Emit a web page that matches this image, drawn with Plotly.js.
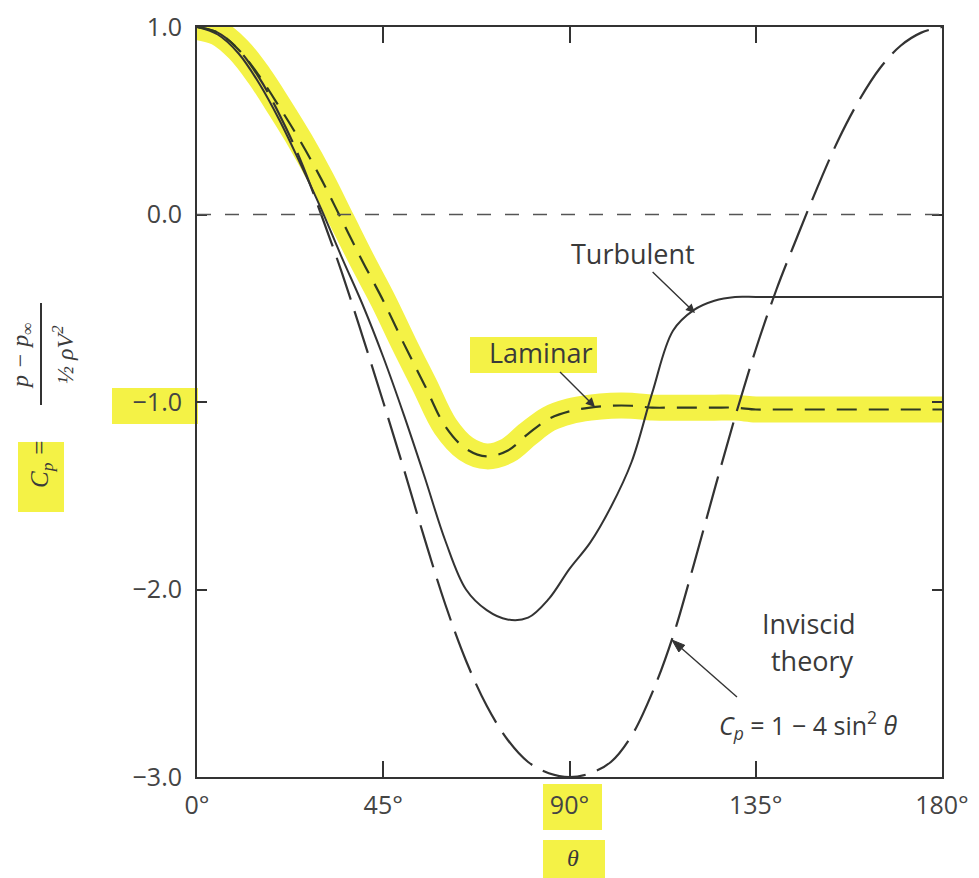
<!DOCTYPE html>
<html>
<head>
<meta charset="utf-8">
<script src="https://cdn.plot.ly/plotly-3.0.1.min.js"></script>
<style>html,body{margin:0;padding:0;background:#fff;}#chart{width:979px;height:878px;}</style>
</head>
<body>
<div id="chart"></div>
<script>
// ---- data ----
var theta = [0,5,10,15,20,25,30,35,40,45,50,55,60,65,70,75,80,85,90,95,100,105,110,115,120,125,130,135,140,145,150,155,160,165,170,175,180];
var inviscid = [1.00,0.97,0.88,0.73,0.53,0.29,0.00,-0.31,-0.65,-1.00,-1.36,-1.73,-2.08,-2.38,-2.62,-2.80,-2.92,-2.98,-3.00,-2.98,-2.92,-2.78,-2.55,-2.25,-1.87,-1.47,-1.08,-0.72,-0.40,-0.12,0.15,0.40,0.61,0.78,0.90,0.97,1.00];
var turbulent = [1.00,0.96,0.86,0.70,0.50,0.27,0.03,-0.23,-0.48,-0.76,-1.07,-1.40,-1.74,-2.00,-2.11,-2.16,-2.15,-2.05,-1.89,-1.75,-1.56,-1.32,-0.95,-0.62,-0.51,-0.46,-0.44,-0.44,-0.44,-0.44,-0.44,-0.44,-0.44,-0.44,-0.44,-0.44,-0.44];
var laminar = [1.00,0.97,0.88,0.74,0.57,0.39,0.19,-0.03,-0.25,-0.46,-0.69,-0.91,-1.13,-1.25,-1.29,-1.26,-1.17,-1.09,-1.05,-1.03,-1.02,-1.02,-1.03,-1.03,-1.03,-1.03,-1.03,-1.04,-1.04,-1.04,-1.04,-1.04,-1.04,-1.04,-1.04,-1.04,-1.04];
var xTickVals = [0,45,90,135,180];
var xTickText = ['0°','45°','90°','135°','180°'];
var yTickVals = [1,0,-1,-2,-3];
var yTickText = ['1.0','0.0','\u22121.0','\u22122.0','\u22123.0'];

// ---- layout helpers (pixel -> paper) ----
var L = 197, R = 37, T = 27, B = 101, W = 979, H = 878;
var PW = W - L - R, PH = H - T - B;
function px(X){ return (X - L) / PW; }
function py(Y){ return (H - B - Y) / PH; }

var ink = '#333';
var yellow = 'rgb(244,242,70)';
var fam = 'Open Sans, Liberation Sans, sans-serif';
var txtFont = {family: fam, size: 27, color: '#3a3a3a'};
var mathFont = {family: 'Liberation Serif, DejaVu Serif, serif', size: 24, color: '#3a3a3a', style: 'italic'};

var traces = [
  {x: theta, y: laminar, mode: 'lines', line: {color: yellow, width: 26, shape: 'spline'}, hoverinfo: 'skip', showlegend: false},
  {x: theta, y: inviscid, mode: 'lines', name: 'Inviscid', line: {color: ink, width: 2.2, dash: '44px,12px', shape: 'spline'}},
  {x: theta, y: turbulent, mode: 'lines', name: 'Turbulent', line: {color: ink, width: 2, shape: 'spline'}},
  {x: theta, y: laminar, mode: 'lines', name: 'Laminar', line: {color: '#2f3a22', width: 2.2, dash: '20px,12px', shape: 'spline'}}
];

function hl(x0, y0, x1, y1){
  return {type: 'rect', xref: 'paper', yref: 'paper', x0: px(x0), x1: px(x1), y0: py(y1), y1: py(y0),
          fillcolor: yellow, line: {width: 0}, layer: 'below'};
}

// inviscid pointer arrow (tail -> head) drawn as shapes
var tail = [737, 697], head = [672, 640];
var dx = head[0] - tail[0], dy = head[1] - tail[1], dl = Math.sqrt(dx*dx + dy*dy);
var ux = dx / dl, uy = dy / dl, nx = -uy, ny = ux;
var bx = head[0] - 13*ux, by = head[1] - 13*uy;
var tri = 'M' + px(head[0]) + ',' + py(head[1]) +
          ' L' + px(bx + 4.5*nx) + ',' + py(by + 4.5*ny) +
          ' L' + px(bx - 4.5*nx) + ',' + py(by - 4.5*ny) + ' Z';

var shapes = [
  hl(112, 388, 198, 424),
  hl(470, 337, 597, 373),
  hl(543, 784, 602, 830),
  hl(543, 840, 605, 878),
  hl(18, 442, 64, 512),
  {type: 'line', xref: 'paper', yref: 'y', x0: 0, x1: 1, y0: 0, y1: 0, line: {color: '#555', width: 1.6, dash: '14px,14px'}},
  {type: 'line', xref: 'paper', yref: 'paper', x0: px(41), x1: px(41), y0: py(303), y1: py(405), line: {color: ink, width: 2}},
  {type: 'line', xref: 'paper', yref: 'paper', x0: px(tail[0]), y0: py(tail[1]), x1: px(bx), y1: py(by), line: {color: ink, width: 1.4}},
  {type: 'path', xref: 'paper', yref: 'paper', path: tri, fillcolor: ink, line: {color: ink, width: 1}}
];

function label(X, Y, text, font, extra){
  var a = {xref: 'paper', yref: 'paper', x: px(X), y: py(Y), text: text, showarrow: false, font: font,
           xanchor: 'center', yanchor: 'middle'};
  if (extra) for (var k in extra) a[k] = extra[k];
  return a;
}
function pointer(X, Y, HX, HY, text){
  return {xref: 'paper', yref: 'paper', x: px(HX), y: py(HY), ax: X - HX, ay: Y - HY, text: text,
          showarrow: true, arrowhead: 2, arrowsize: 1.3, arrowwidth: 1.4, arrowcolor: ink, standoff: 0,
          font: txtFont, borderpad: 0};
}

var annotations = [
  pointer(633, 253, 695, 313, 'Turbulent'),
  pointer(541, 353, 595, 407, 'Laminar'),
  label(809, 623, 'Inviscid', txtFont),
  label(812, 660, 'theory', txtFont),
  label(808, 725, '<i>C</i><sub><i>p</i></sub> = 1 \u2212 4 sin<sup>2</sup> <i>θ</i>', {family: fam, size: 25, color: '#3a3a3a'}),
  label(573, 858, 'θ', mathFont),
  label(22, 356, 'p \u2212 p<sub>∞</sub>', {family: mathFont.family, size: 24, color: '#3a3a3a', style: 'italic'}, {textangle: -90}),
  label(63, 355, '½ ρV<sup>2</sup>', {family: mathFont.family, size: 24, color: '#3a3a3a', style: 'italic'}, {textangle: -90}),
  label(41, 464, 'C<sub>p</sub> =', {family: mathFont.family, size: 25, color: '#3a3a3a', style: 'italic'}, {textangle: -90})
];

var layout = {
  width: W, height: H,
  margin: {l: L, r: R, t: T, b: B, pad: 0},
  paper_bgcolor: '#fff', plot_bgcolor: 'rgba(0,0,0,0)',
  showlegend: false,
  xaxis: {range: [0, 180], tickvals: xTickVals, ticktext: xTickText, ticks: 'inside', ticklen: 16, tickwidth: 2,
          tickcolor: ink, showline: true, linecolor: ink, linewidth: 2, mirror: 'ticks', showgrid: false, zeroline: false,
          tickfont: {family: fam, size: 25, color: '#444'}, ticklabelstandoff: 5},
  yaxis: {range: [-3, 1], tickvals: yTickVals, ticktext: yTickText, ticks: 'inside', ticklen: 10, tickwidth: 2,
          tickcolor: ink, showline: true, linecolor: ink, linewidth: 2, mirror: 'ticks', showgrid: false, zeroline: false,
          tickfont: {family: fam, size: 25, color: '#444'}, ticklabelstandoff: 8},
  shapes: shapes,
  annotations: annotations
};

Plotly.newPlot('chart', traces, layout, {staticPlot: true, displayModeBar: false});
</script>
</body>
</html>
